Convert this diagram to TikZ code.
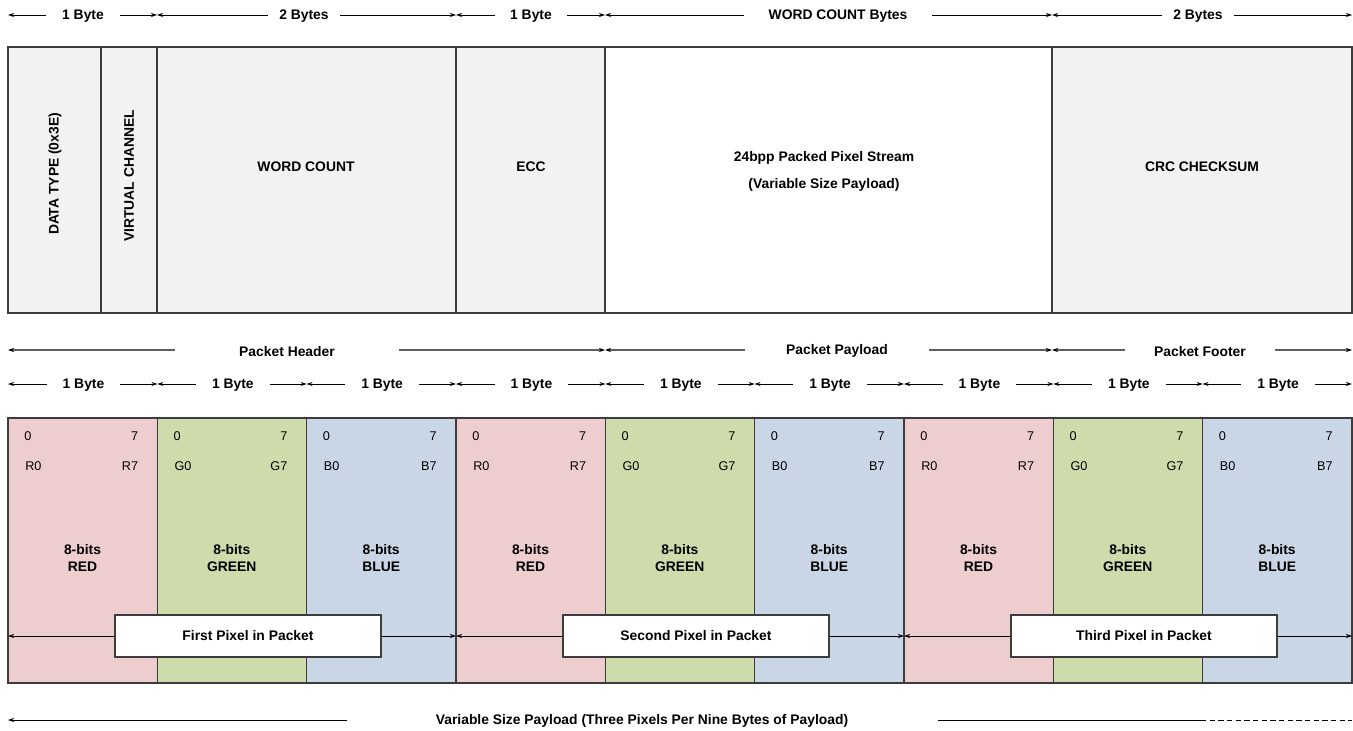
\documentclass[tikz,border=0pt]{standalone}
\usepackage{fontspec}
\setmainfont{Liberation Sans}
\usetikzlibrary{arrows.meta}

\definecolor{hdrgray}{RGB}{242,242,242}
\definecolor{redfill}{RGB}{237,205,205}
\definecolor{greenfill}{RGB}{205,220,170}
\definecolor{bluefill}{RGB}{201,214,230}
\definecolor{edgegray}{RGB}{60,60,60}
\definecolor{spangray}{RGB}{95,95,95}

\begin{document}
\begin{tikzpicture}[x=0.75pt,y=-0.75pt,
	lbl/.style={font=\bfseries\fontsize{10.4}{12.5}\selectfont, inner sep=0pt, align=center},
	bit/.style={font=\fontsize{9.5}{11}\selectfont, inner sep=0pt},
	field/.style={draw=edgegray, line width=0.9pt},
	cell/.style={draw=edgegray, line width=0.9pt},
	dim/.style={{Stealth[length=4.5pt,width=3pt]}-{Stealth[length=4.5pt,width=3pt]}, line width=0.6pt},
	span/.style={{Stealth[length=4.5pt,width=3pt,color=black]}-{Stealth[length=4.5pt,width=3pt,color=black]}, line width=1.1pt, draw=spangray},
	gaplbl/.style={lbl, fill=white, inner ysep=3pt, yshift=-1pt},
	pixbox/.style={lbl, draw=edgegray, fill=white, line width=0.9pt, minimum width=199.5pt, minimum height=31.5pt}]
	\useasboundingbox (0,0) rectangle (1353,731);
	
	% byte sizes above the packet
	\foreach \xa/\xb/\cx/\g/\t [count=\i] in {8/157/83/16/1 Byte, 157/456/304/11/2 Bytes, 456/605/531/15/1 Byte, 605/1052/838/25/WORD COUNT Bytes, 1052/1352/1198/11/2 Bytes} {
		\coordinate (ta\i) at (\xa,15);
		\coordinate (tb\i) at (\xb,15);
		\draw[dim] (ta\i) -- (tb\i);
		\node[gaplbl, inner xsep=\g*0.75pt] (tl\i) at (\cx,15) {\t};
	}
	
	% packet fields
	\draw[field, fill=hdrgray] (8,47) rectangle (101,313);
	\draw[field, fill=hdrgray] (101,47) rectangle (157,313);
	\draw[field, fill=hdrgray] (157,47) rectangle (456,313);
	\draw[field, fill=hdrgray] (456,47) rectangle (605,313);
	\draw[field, fill=white] (605,47) rectangle (1052,313);
	\draw[field, fill=hdrgray] (1052,47) rectangle (1352,313);
	\node[lbl, rotate=90] (dtype) at (55,174) {DATA TYPE (0x3E)};
	\node[lbl, rotate=90] (vchan) at (129,176) {VIRTUAL CHANNEL};
	\node[lbl] (wcount) at (306,167) {WORD COUNT};
	\node[lbl] (ecc) at (531,167) {ECC};
	\node[lbl] (stream) at (824,158) {24bpp Packed Pixel Stream};
	\node[lbl] (varsize) at (824,185) {(Variable Size Payload)};
	\node[lbl] (crc) at (1202,167) {CRC CHECKSUM};
	
	% header / payload / footer spans
	\foreach \xa/\xb/\cx/\g/\t [count=\i] in {8/605/287/64/Packet Header, 605/1052/837/41/Packet Payload, 1052/1352/1200/29/Packet Footer} {
		\coordinate (sa\i) at (\xa,350);
		\coordinate (sb\i) at (\xb,350);
		\draw[span] (sa\i) -- (sb\i);
		\node[gaplbl, inner xsep=\g*0.75pt] (sl\i) at (\cx,350) {\t};
	}
	
	% one byte per colour
	\foreach \i in {0,...,8} {
		\pgfmathsetmacro\xa{8+\i*149.33}
		\pgfmathsetmacro\xb{\xa+149.33}
		\coordinate (ba\i) at (\xa,384);
		\coordinate (bb\i) at (\xb,384);
		\draw[dim] (ba\i) -- (bb\i);
		\node[gaplbl, inner xsep=12pt] (bl\i) at ({\xa+75.5},384) {1 Byte};
	}
	
	% three pixels
	\foreach \p/\gx/\nm in {1/8/First, 2/456/Second, 3/904/Third} {
		\foreach \c/\col/\word [count=\i from 0] in {R/redfill/RED, G/greenfill/GREEN, B/bluefill/BLUE} {
			\pgfmathsetmacro\xl{\gx+\i*149.33}
			\pgfmathsetmacro\xr{\xl+149.33}
			\draw[cell, fill=\col] (\xl,418) rectangle (\xr,683);
			\node[bit, anchor=west] (lo\p\c) at ({\xl+16},436) {0};
			\node[bit, anchor=east] (hi\p\c) at ({\xr-19},436) {7};
			\node[bit, anchor=west] (first\p\c) at ({\xl+17},466) {\c0};
			\node[bit, anchor=east] (last\p\c) at ({\xr-19},466) {\c7};
			\node[lbl] (name\p\c) at ({\xl+74.5},558) {8-bits\\\word};
		}
		\coordinate (pl\p) at (\gx,636);
		\coordinate (pr\p) at ({\gx+448},636);
		\node[pixbox] (pix\p) at ({\gx+240},636) {\nm{} Pixel in Packet};
		\draw[-{Stealth[length=4.5pt,width=3pt]}, line width=0.6pt] (pix\p.west) -- (pl\p);
		\draw[-{Stealth[length=4.5pt,width=3pt]}, line width=0.6pt] (pix\p.east) -- (pr\p);
	}
	
	% payload length, open at the right end
	\coordinate (vl) at (8,720);
	\coordinate (vm) at (1201,720);
	\coordinate (vr) at (1352,720);
	\draw[-{Stealth[length=4.5pt,width=3pt]}, line width=0.6pt] (vm) -- (vl);
	\draw[line width=0.6pt, dash pattern=on 4pt off 2.5pt] (vm) -- (vr);
	\node[gaplbl, inner xsep=67pt] (vlbl) at (642,720) {Variable Size Payload (Three Pixels Per Nine Bytes of Payload)};
\end{tikzpicture}
\end{document}
